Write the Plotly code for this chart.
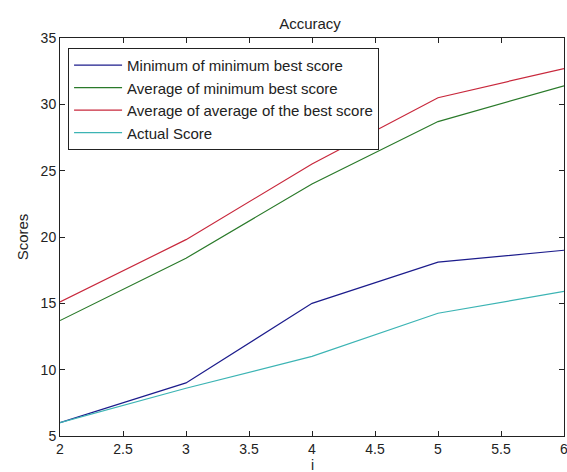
import plotly.graph_objects as go

x_vals = [2, 3, 4, 5, 6]
min_of_min = [6.0, 9.0, 15.0, 18.1, 19.0]
avg_of_min = [13.7, 18.4, 24.0, 28.7, 31.4]
avg_of_avg = [15.1, 19.8, 25.5, 30.5, 32.7]
actual = [6.0, 8.6, 11.0, 14.25, 15.9]

names = ["Minimum of minimum best score", "Average of minimum best score",
         "Average of average of the best score", "Actual Score"]
colors = ["#1c1c8c", "#2a7a2a", "#c8283c", "#3cb4b4"]
series = [min_of_min, avg_of_min, avg_of_avg, actual]

fig = go.Figure()
for n, c, s in zip(names, colors, series):
    fig.add_trace(go.Scatter(x=x_vals, y=s, mode="lines", name=n,
                             line=dict(color=c, width=1.2)))

axis_common = dict(showline=True, linecolor="#222", linewidth=1, mirror="ticks",
                   ticks="inside", ticklen=5, tickcolor="#222", showgrid=False,
                   zeroline=False, automargin=False, tickfont=dict(size=14, color="#222"))
fig.update_xaxes(range=[2, 6], dtick=0.5, ticklabeloverflow="allow", **axis_common)
fig.update_yaxes(range=[5, 35], dtick=5, title=dict(text="Scores", standoff=8, font=dict(size=15)),
                 **axis_common)

fig.add_annotation(text="i", xref="paper", yref="paper", x=0.5, y=0, xanchor="center",
                   yanchor="top", yshift=-19, showarrow=False, font=dict(size=14, color="#222"))

fig.update_layout(
    width=567, height=472,
    margin=dict(l=60, r=3, t=38, b=36),
    paper_bgcolor="white", plot_bgcolor="white",
    font=dict(family="Liberation Sans, Arial", size=14, color="#222"),
    title=dict(text="Accuracy", x=(58 + 504 / 2) / 567, xanchor="center", y=1 - 24 / 472, yanchor="middle",
               font=dict(size=15)),
    showlegend=True,
    legend=dict(x=0.016, y=0.975, xanchor="left", yanchor="top", bgcolor="white",
                bordercolor="#222", borderwidth=1, font=dict(size=15),
                tracegroupgap=0, itemwidth=48),
)

fig.write_html("out.html", config={"displayModeBar": False},
               post_script="document.body.style.margin='0';")
